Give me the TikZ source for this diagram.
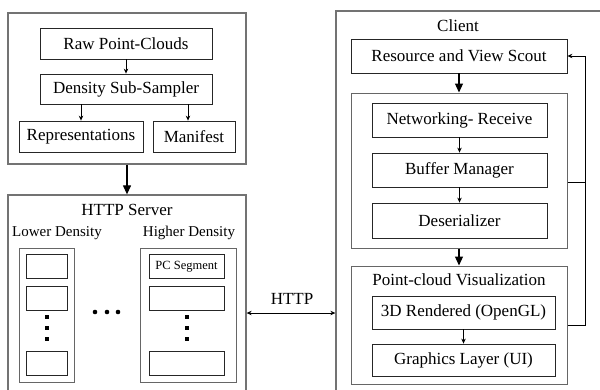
\documentclass[tikz,border=0pt]{standalone}
\usepackage{fontspec}
\setmainfont{Liberation Serif}
\usetikzlibrary{arrows.meta}
\begin{document}
\begin{tikzpicture}[x=1pt,y=-1pt,
  frame/.style={draw=black!55,line width=1.3pt,inner sep=0pt},
  group/.style={draw=black!60,line width=1pt,inner sep=0pt},
  blk/.style={draw=black!85,line width=.8pt,inner sep=0pt,font=\fontsize{17}{20}\selectfont},
  seg/.style={draw=black!85,line width=.8pt,inner sep=0pt,font=\fontsize{12.5}{15}\selectfont},
  ttl/.style={inner sep=0pt,font=\fontsize{17}{20}\selectfont},
  sub/.style={inner sep=0pt,font=\fontsize{15}{18}\selectfont},
  big/.style={-{Triangle[width=8pt,length=9pt]},line width=1.2pt},
  small/.style={-{Stealth[length=5pt,width=4.5pt]},line width=.8pt}]
\useasboundingbox (0,0) rectangle (600,389);
\clip (0,0) rectangle (600,389);
% sampling
\node[frame,minimum width=238pt,minimum height=151pt] (prep) at (127,88.5) {};
\node[blk,minimum width=172pt,minimum height=31pt] (raw) at (126,43.5) {Raw Point-Clouds};
\node[blk,minimum width=172pt,minimum height=30pt] (dss) at (126,89) {Density Sub-Sampler};
\node[blk,minimum width=124pt,minimum height=31pt] (repr) at (81,136.5) {Representations};
\node[blk,minimum width=82pt,minimum height=31pt] (mani) at (194,136.5) {Manifest};
\draw[small] (raw) -- (dss);
\draw[small] (dss.south -| repr.north) -- (repr.north);
\draw[small] ([xshift=-6pt]dss.south -| mani.north) -- ([xshift=-6pt]mani.north);
% server
\node[frame,minimum width=238pt,minimum height=205pt] (server) at (127,297.5) {};
\draw[big] (prep) -- (server);
\node[ttl] (stitle) at (127,210) {HTTP Server};
\node[sub] (lowt) at (57,233) {Lower Density};
\node[sub] (hight) at (189,233) {Higher Density};
\node[group,minimum width=55pt,minimum height=134pt] (lowcol) at (46.5,315) {};
\node[group,minimum width=96pt,minimum height=134pt] (highcol) at (188,315) {};
\foreach \y/\n/\t in {266.5/1/PC Segment,298/2/,363/3/}{
  \node[seg,minimum width=41pt,minimum height=24pt] (lo\n) at (46.5,\y) {};
  \node[seg,minimum width=75pt,minimum height=24pt] (hi\n) at (186.5,\y) {\t};
}
\foreach \x in {46.5,187}\foreach \y in {317,328,339}\fill (\x-2,\y-2) rectangle ++(4,4);
\foreach \x in {95,107,118}\fill (\x,312) circle (2.3);
% client
\node[frame,minimum width=284pt,minimum height=389pt] (client) at (478,205.5) {};
\node[ttl] (ctitle) at (458,26) {Client};
\node[blk,minimum width=216pt,minimum height=34pt] (scout) at (459,56) {Resource and View Scout};
\node[group,minimum width=216pt,minimum height=155pt] (recv) at (459,170.5) {};
\node[blk,minimum width=175pt,minimum height=34pt] (net) at (459.5,120) {Networking- Receive};
\node[blk,minimum width=175pt,minimum height=34pt] (buf) at (459.5,170) {Buffer Manager};
\node[blk,minimum width=175pt,minimum height=35pt] (deser) at (459.5,220.5) {Deserializer};
\node[group,minimum width=216pt,minimum height=118pt] (vis) at (459,325) {};
\node[ttl] (vtitle) at (459,280) {Point-cloud Visualization};
\node[blk,minimum width=183pt,minimum height=33pt] (rend) at (463.5,312.5) {3D Rendered (OpenGL)};
\node[blk,minimum width=183pt,minimum height=32pt] (gfx) at (463.5,360) {Graphics Layer (UI)};
\draw[big] (scout) -- (recv);
\draw[big] (recv) -- (vis);
\draw[small] (net) -- (buf);
\draw[small] (buf) -- (deser);
\draw[small] (rend) -- (gfx);
\draw[small] (vis.east) -- ++(18,0) coordinate (fb) |- (scout.east);
\draw[line width=.8pt] ([yshift=-11.5pt]recv.east) -- ([yshift=-11.5pt]recv.east -| fb);
% link
\coordinate (h) at (0,313);
\draw[{Stealth[length=5pt,width=4.5pt]}-{Stealth[length=5pt,width=4.5pt]},line width=.8pt] (server.east |- h) -- (client.west |- h);
\node[ttl] (http) at (292,299) {HTTP};
\end{tikzpicture}
\end{document}
